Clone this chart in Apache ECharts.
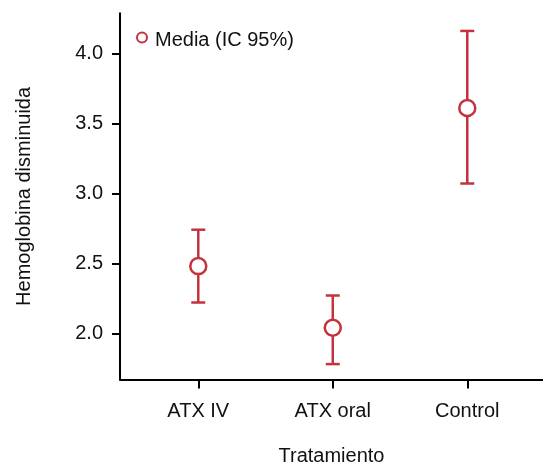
<!DOCTYPE html>
<html>
<head>
<meta charset="utf-8">
<script src="https://cdn.jsdelivr.net/npm/echarts@6/dist/echarts.min.js"></script>
<style>
html,body{margin:0;padding:0;background:#fff;}
#chart{width:543px;height:464px;}
</style>
</head>
<body>
<div id="chart"></div>
<script>
var categories = ['ATX IV', 'ATX oral', 'Control'];
var means = [2.48, 2.04, 3.61];
var lower = [2.22, 1.78, 3.07];
var upper = [2.74, 2.27, 4.16];
var yTicks = [2.0, 2.5, 3.0, 3.5, 4.0];
var xTicks = [1, 2, 3];
var legendLabel = 'Media (IC 95%)';

var RED = '#c4333d';
var FONT = "'Liberation Sans', Arial, sans-serif";
var FS = 20;

var meanData = means.map(function (v, i) { return [i + 1, v]; });
var barData = means.map(function (v, i) { return [i + 1, lower[i], upper[i]]; });

var chart = echarts.init(document.getElementById('chart'));
chart.setOption({
  animation: false,
  backgroundColor: '#fff',
  textStyle: { fontFamily: FONT },
  grid: { left: 120, right: 0, top: 13.3, bottom: 84.5, outerBoundsMode: 'none', containLabel: false },
  graphic: [
    { type: 'circle', left: 136, top: 31.5, shape: { r: 5 }, style: { fill: '#fff', stroke: RED, lineWidth: 2 } },
    { type: 'text', left: 155, top: 30, style: { text: legendLabel, font: FS + "px 'Liberation Sans', Arial, sans-serif", fill: '#111' } }
  ],
  xAxis: {
    type: 'value',
    min: 0.418, max: 3.563,
    name: 'Tratamiento',
    nameLocation: 'middle',
    nameGap: 67,
    nameTextStyle: { fontFamily: FONT, fontSize: FS, color: '#111' },
    axisLine: { show: true, onZero: false, lineStyle: { color: '#000', width: 2 } },
    axisTick: { show: true, customValues: xTicks, length: 9, lineStyle: { color: '#000', width: 2 } },
    axisLabel: {
      customValues: xTicks, margin: 22, fontFamily: FONT, fontSize: FS, color: '#111',
      formatter: function (v) { return categories[Math.round(v) - 1] || ''; }
    },
    splitLine: { show: false }
  },
  yAxis: {
    type: 'value',
    min: 1.67, max: 4.286,
    name: 'Hemoglobina disminuida',
    nameLocation: 'middle',
    nameGap: 86,
    nameTextStyle: { fontFamily: FONT, fontSize: FS, color: '#111' },
    axisLine: { show: true, onZero: false, lineStyle: { color: '#000', width: 2 } },
    axisTick: { show: true, customValues: yTicks, length: 8, lineStyle: { color: '#000', width: 2 } },
    axisLabel: {
      customValues: yTicks, margin: 17, fontFamily: FONT, fontSize: FS, color: '#111',
      formatter: function (v) { return v.toFixed(1); }
    },
    splitLine: { show: false }
  },
  series: [
    {
      name: 'IC',
      type: 'custom',
      data: barData,
      z: 2,
      renderItem: function (params, api) {
        var x = api.value(0);
        var lo = api.coord([x, api.value(1)]);
        var hi = api.coord([x, api.value(2)]);
        var hw = 7;
        var st = { stroke: RED, lineWidth: 2.5 };
        return {
          type: 'group',
          children: [
            { type: 'line', shape: { x1: lo[0], y1: lo[1], x2: hi[0], y2: hi[1] }, style: st },
            { type: 'line', shape: { x1: lo[0] - hw, y1: lo[1], x2: lo[0] + hw, y2: lo[1] }, style: st },
            { type: 'line', shape: { x1: hi[0] - hw, y1: hi[1], x2: hi[0] + hw, y2: hi[1] }, style: st }
          ]
        };
      }
    },
    {
      name: legendLabel,
      type: 'scatter',
      data: meanData,
      z: 3,
      symbol: 'circle',
      symbolSize: 16,
      itemStyle: { color: '#fff', borderColor: RED, borderWidth: 2.5, opacity: 1 }
    }
  ]
});
</script>
</body>
</html>
